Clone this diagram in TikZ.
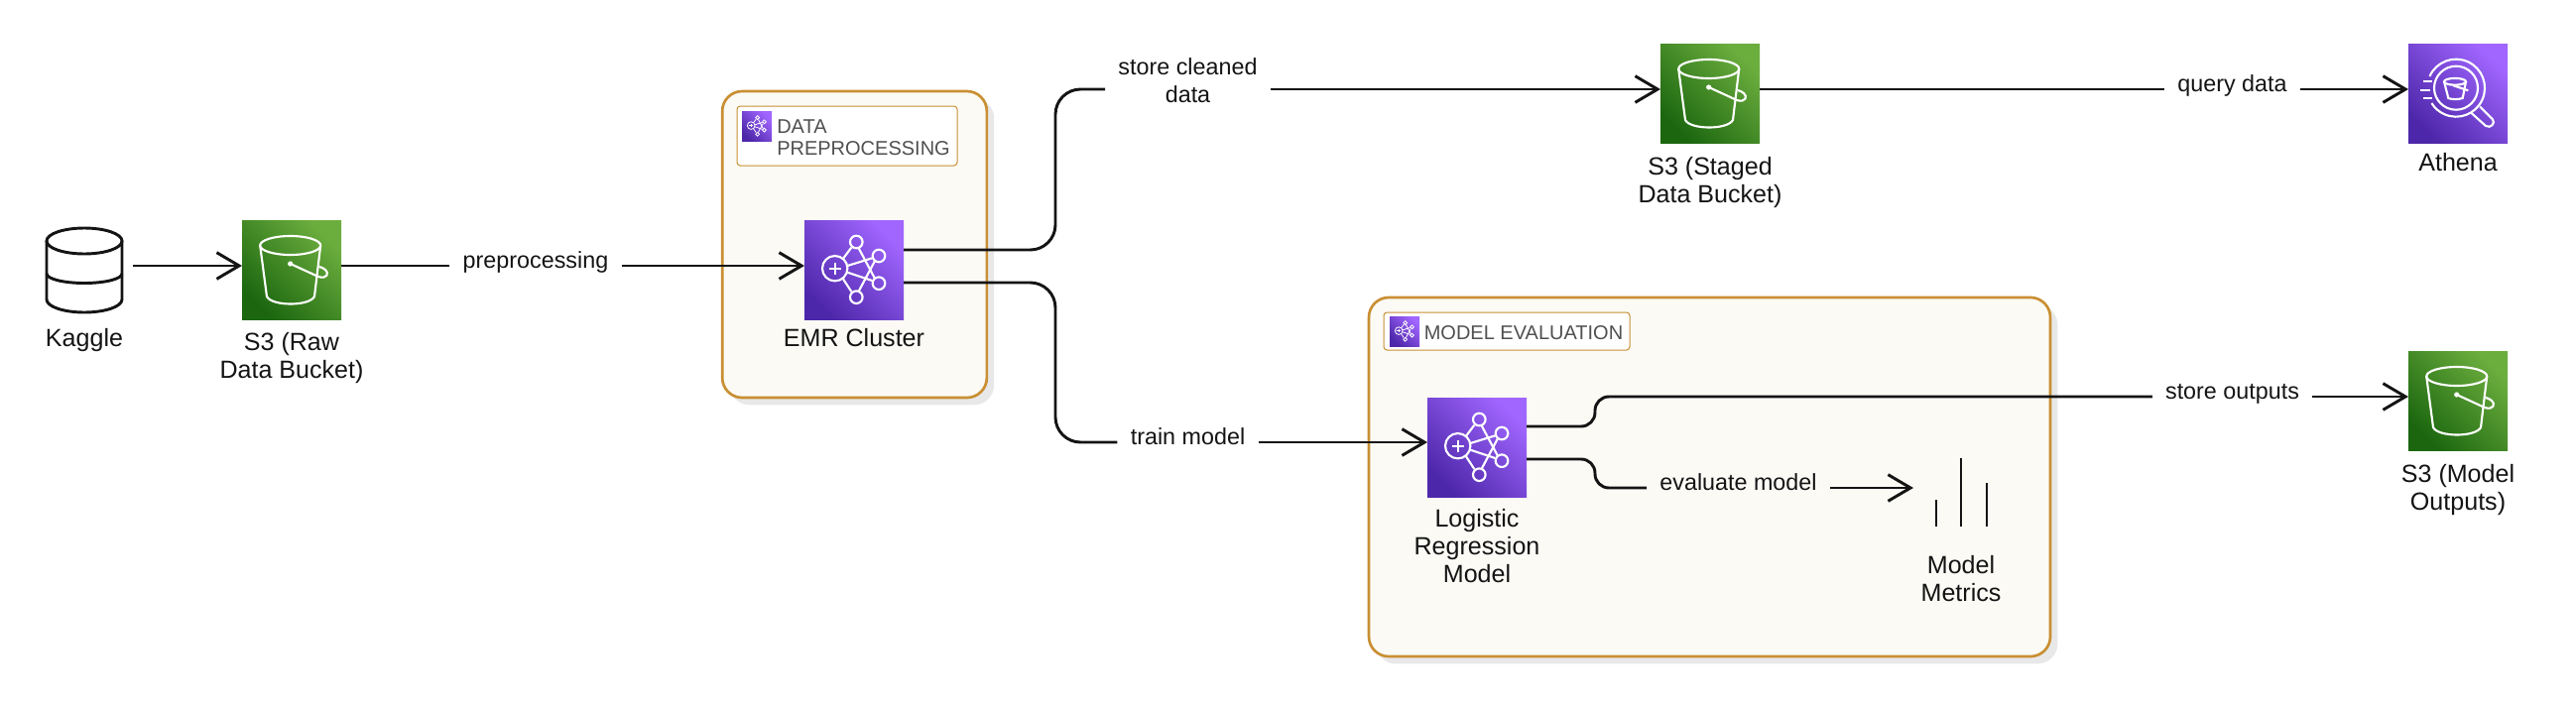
\documentclass[tikz,border=0pt]{standalone}
\usepackage{fontspec}
\setmainfont{Liberation Sans}
\usepackage{xcolor}
\usetikzlibrary{arrows.meta,shadows}
\definecolor{greenlow}{HTML}{1B660F}
\definecolor{greenhigh}{HTML}{6CAE3E}
\definecolor{purplelow}{HTML}{4D27AA}
\definecolor{purplehigh}{HTML}{A166FF}
\definecolor{groupline}{HTML}{C98F33}
\definecolor{groupfill}{HTML}{FBFAF5}
\definecolor{labelgrey}{HTML}{505050}
\definecolor{ink}{HTML}{141414}
\tikzstyle{green icon}=[shape=rectangle, minimum size=75pt, inner sep=0pt, outer sep=0pt, bottom color=greenlow, top color=greenhigh, shading angle=-45]
\tikzstyle{purple icon}=[shape=rectangle, minimum size=75pt, inner sep=0pt, outer sep=0pt, bottom color=purplelow, top color=purplehigh, shading angle=-45]
\tikzstyle{tiny icon}=[shape=rectangle, minimum size=22.5pt, inner sep=0pt, outer sep=0pt, bottom color=purplelow, top color=purplehigh, shading angle=-45]
\tikzstyle{ghost}=[shape=rectangle, inner sep=0pt, outer sep=0pt]
\tikzstyle{caption}=[font=\fontsize{18.8}{21}\selectfont, align=center, inner sep=0pt, anchor=base, text=ink]
\tikzstyle{edge label}=[font=\fontsize{17.5}{21}\selectfont, inner ysep=0pt, inner xsep=10pt, outer sep=0pt, anchor=base, text height=8pt, text depth=5pt, text=ink]
\tikzstyle{group box}=[shape=rectangle, draw=groupline, line width=2pt, fill=groupfill, rounded corners=15pt, drop shadow={shadow xshift=5.5pt, shadow yshift=-5.5pt, fill=black!9, opacity=1}]
\tikzstyle{label box}=[shape=rectangle, draw=groupline, line width=0.75pt, fill=white, rounded corners=2.5pt]
\tikzstyle{group text}=[font=\fontsize{15}{16.5}\selectfont, align=left, inner sep=0pt, anchor=base west, text=labelgrey]
\tikzstyle{glyph}=[color=white, line width=1.6pt]
\tikzstyle{small glyph}=[color=white, line width=0.6pt, scale=0.3]
\tikzstyle{dark glyph}=[color=ink, line width=2.2pt]
\tikzstyle{plain edge}=[-, draw=ink, line width=2.2pt]
\tikzstyle{arrow edge}=[-{Straight Barb[length=17pt, width=20pt, line width=2.2pt]}, draw=ink, line width=2.2pt]
\tikzset{
	bucket glyph/.pic={
		\draw (-1.3, -24.5) ellipse [x radius=30.5, y radius=9.5];
		\draw (-31.8, -24.5) -- (-25, 27) .. controls (-20, 37) and (18, 37) .. (23, 27) -- (29.2, -24.5);
		\fill (-1.3, -6) circle [radius=2.6];
		\draw (-1.3, -6) -- (27, 7) .. controls (36, 10) and (38, 3) .. (34, 0) .. controls (32, -2) and (30, -2) .. (28, -3);
	},
	emr glyph/.pic={
		\draw (-19.3, -1.3) circle [radius=12.7];
		\draw (2.3, -28) circle [radius=6.3];
		\draw (25, -14) circle [radius=6.3];
		\draw (25, 13.7) circle [radius=6.3];
		\draw (2.3, 27.7) circle [radius=6.3];
		\draw (-25.3, -1.3) -- (-13.3, -1.3);
		\draw (-19.3, -7.3) -- (-19.3, 4.7);
		\draw (-11, -11.3) -- (-2.7, -22.3);
		\draw (-6.7, -4) -- (18.3, -11.7);
		\draw (-6.7, 2.7) -- (18.3, 11);
		\draw (-11, 9.3) -- (-2.7, 22);
		\draw (4.7, -21.7) -- (20.7, 8.3);
		\draw (4.7, 21.7) -- (20.7, -8.3);
	},
	athena glyph/.pic={
		\draw (-2, -5.3) circle [radius=22];
		\draw (-2, -5.3) ++(204:29) arc [start angle=204, end angle=508, radius=29];
		\draw (-35, -12) -- (-26.3, -12);
		\draw (-38, -3.3) -- (-28, -3.3);
		\draw (-35, 5) -- (-26.3, 5);
		\draw (-3, -11.7) ellipse [x radius=11, y radius=3.4];
		\draw (-14, -11.7) -- (-9.7, 5) .. controls (-6, 6.5) and (0, 6.5) .. (4.7, 5) -- (8, -11.7);
		\draw (-4.7, -7.7) -- (10.3, -2.7);
		\draw (13.5, 20) -- (28, 33) .. controls (33, 36) and (38, 30) .. (35, 26.5) -- (22, 13.5);
	},
	kaggle glyph/.pic={
		\draw (0, -29.5) ellipse [x radius=38, y radius=13];
		\draw (-38, 3.5) arc [start angle=180, end angle=0, x radius=38, y radius=9.5];
		\draw (-38, -29.5) -- (-38, 29.5) arc [start angle=180, end angle=0, x radius=38, y radius=13] -- (38, -29.5);
	},
	metrics glyph/.pic={
		\draw (-25, 12) -- (-25, 39);
		\draw (0, -30) -- (0, 39);
		\draw (26, -5) -- (26, 39);
	}
}
\pgfdeclarelayer{nodelayer}
\pgfdeclarelayer{edgelayer}
\pgfsetlayers{main,nodelayer,edgelayer}
\begin{document}
\begin{tikzpicture}[x=0.75pt, y=-0.75pt]
	\useasboundingbox (0, 0) rectangle (2597, 714);
	\begin{pgfonlayer}{nodelayer}
		\node [style=group box, minimum width=200pt, minimum height=231.75pt] (pregroup) at (861.5, 246.5) {};
		\node [style=label box, minimum width=166.5pt, minimum height=45pt] (prelabel) at (854, 137) {};
		\node [style=tiny icon] (preicon) at (763, 127) {};
		\pic [style=small glyph] at (preicon) {emr glyph};
		\node [style=group text] (pretext) at (783, 156) {DATA\\PREPROCESSING};
		\node [style=group box, minimum width=515.25pt, minimum height=271.5pt] (evalgroup) at (1723.5, 481) {};
		\node [style=label box, minimum width=186pt, minimum height=28.5pt] (evallabel) at (1519, 334) {};
		\node [style=tiny icon] (evalicon) at (1416, 334) {};
		\pic [style=small glyph] at (evalicon) {emr glyph};
		\node [style=group text] (evaltext) at (1435.5, 342) {MODEL EVALUATION};
		\node [style=ghost, minimum width=57pt, minimum height=64pt] (kaggle) at (85, 272.5) {};
		\pic [style=dark glyph] at (kaggle) {kaggle glyph};
		\node [style=caption] (kagglecap) at (85, 349) {Kaggle};
		\node [style=green icon] (rawbucket) at (294, 272) {};
		\pic [style=glyph] at (rawbucket) {bucket glyph};
		\node [style=caption] (rawcap) at (294, 381) {S3 (Raw\\Data Bucket)};
		\node [style=purple icon] (emr) at (861, 272) {};
		\pic [style=glyph] at (emr) {emr glyph};
		\node [style=caption] (emrcap) at (861, 349) {EMR Cluster};
		\node [style=green icon] (stagedbucket) at (1724, 94) {};
		\pic [style=glyph] at (stagedbucket) {bucket glyph};
		\node [style=caption] (stagedcap) at (1724, 204) {S3 (Staged\\Data Bucket)};
		\node [style=purple icon] (athena) at (2478, 94) {};
		\pic [style=glyph] at (athena) {athena glyph};
		\node [style=caption] (athenacap) at (2478, 172) {Athena};
		\node [style=green icon] (outbucket) at (2478, 404) {};
		\pic [style=glyph] at (outbucket) {bucket glyph};
		\node [style=caption] (outcap) at (2478, 514) {S3 (Model\\Outputs)};
		\node [style=purple icon] (logreg) at (1489, 451) {};
		\pic [style=glyph] at (logreg) {emr glyph};
		\node [style=caption] (logregcap) at (1489, 587) {Logistic\\Regression\\Model};
		\node [style=ghost, minimum width=72pt, minimum height=60pt] (metrics) at (1977, 492) {};
		\pic [style=dark glyph] at (metrics) {metrics glyph};
		\node [style=caption] (metricscap) at (1977, 606) {Model\\Metrics};
		\node [style=edge label] (preproc) at (540, 270) {preprocessing};
		\node [style=edge label, align=center, text height=, text depth=] (cleaned) at (1197.5, 103) {store cleaned\\data};
		\node [style=edge label] (query) at (2250.5, 92) {query data};
		\node [style=edge label] (train) at (1197.5, 448) {train model};
		\node [style=edge label] (outputs) at (2250.5, 402) {store outputs};
		\node [style=edge label] (evaluate) at (1752.5, 494) {evaluate model};
	\end{pgfonlayer}
	\begin{pgfonlayer}{edgelayer}
		\draw [style=arrow edge] (134, 268) to ([yshift=3pt]rawbucket.west);
		\draw [style=plain edge] ([yshift=3pt]rawbucket.east) to (preproc.west);
		\draw [style=arrow edge] (preproc.east) to ([yshift=3pt]emr.west);
		\draw [style=plain edge, rounded corners=19pt] ([yshift=15pt]emr.east) -| (1064, 90) -- ([yshift=3pt]stagedbucket.west -| cleaned.west);
		\draw [style=arrow edge] ([yshift=3pt]stagedbucket.west -| cleaned.east) to ([yshift=3pt]stagedbucket.west);
		\draw [style=plain edge] ([yshift=3pt]stagedbucket.east) to (query.west);
		\draw [style=arrow edge] (query.east) to ([yshift=3pt]athena.west);
		\draw [style=plain edge, rounded corners=19pt] ([yshift=-9.75pt]emr.east) -| (1064, 446) -- (train.west);
		\draw [style=arrow edge] (train.east) to ([yshift=3.75pt]logreg.west);
		\draw [style=plain edge, rounded corners=10.5pt] ([yshift=15.75pt]logreg.east) -| (1608, 400) -- (outputs.west);
		\draw [style=arrow edge] (outputs.east) to ([yshift=3pt]outbucket.west);
		\draw [style=plain edge, rounded corners=10.5pt] ([yshift=-9pt]logreg.east) -| (1608, 492) -- (evaluate.west);
		\draw [style=arrow edge] (evaluate.east) to (metrics.west);
	\end{pgfonlayer}
\end{tikzpicture}
\end{document}
